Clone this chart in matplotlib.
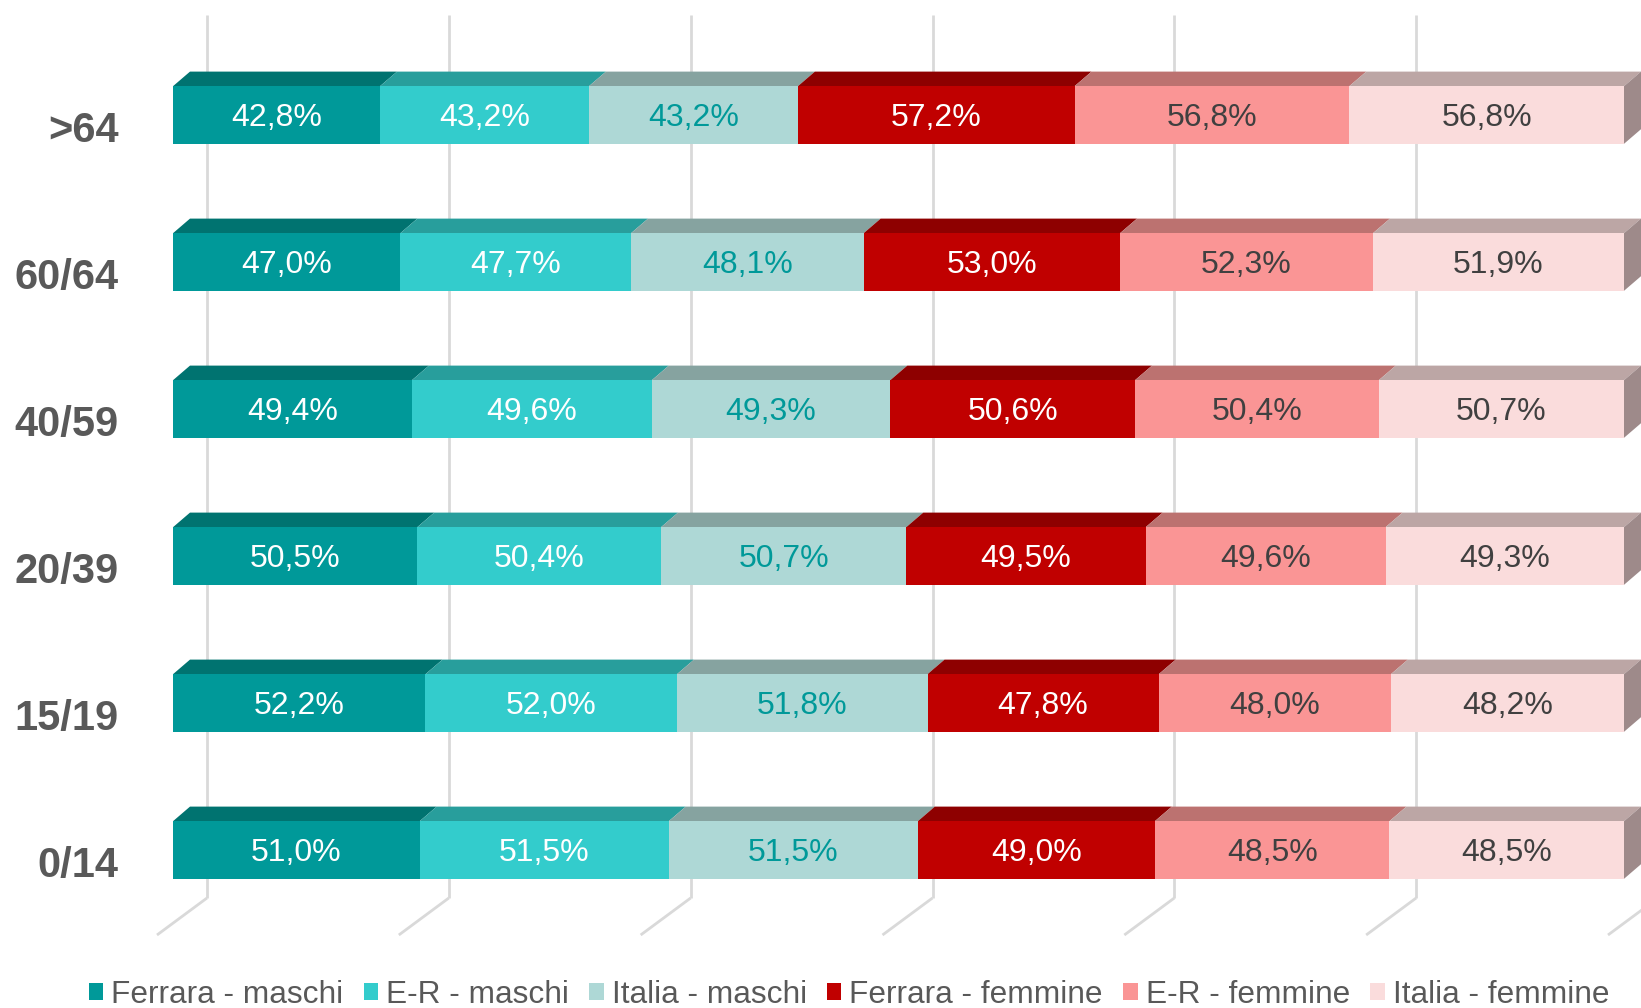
import numpy as np
import matplotlib.pyplot as plt
from matplotlib.patches import Polygon, Rectangle

plt.rcParams['font.family'] = ['Liberation Sans', 'DejaVu Sans']

# Age groups (bottom to top) and the six stacked series
categories = ['0/14', '15/19', '20/39', '40/59', '60/64', '>64']
series = ['Ferrara - maschi', 'E-R - maschi', 'Italia - maschi',
          'Ferrara - femmine', 'E-R - femmine', 'Italia - femmine']
ferrara_m = [51.0, 52.2, 50.5, 49.4, 47.0, 42.8]
er_m = [51.5, 52.0, 50.4, 49.6, 47.7, 43.2]
italia_m = [51.5, 51.8, 50.7, 49.3, 48.1, 43.2]
ferrara_f = [49.0, 47.8, 49.5, 50.6, 53.0, 57.2]
er_f = [48.5, 48.0, 49.6, 50.4, 52.3, 56.8]
italia_f = [48.5, 48.2, 49.3, 50.7, 51.9, 56.8]

values = [ferrara_m, er_m, italia_m, ferrara_f, er_f, italia_f]
front_colors = ['#009999', '#33CCCC', '#AED8D6', '#C00000', '#FA9595', '#FADCDC']
top_colors = ['#007370', '#289E9C', '#86A3A0', '#8E0000', '#BC7270', '#BCA6A5']
side_color = '#9E8A8A'
label_colors = ['white', 'white', '#009999', 'white', '#404040', '#404040']

W, H = 1641, 1008
fig = plt.figure(figsize=(W / 100, H / 100), dpi=100)
ax = fig.add_axes([0, 0, 1, 1])

# pixel geometry -> data scale
x0_px, x300_px = 173, 1624
ppx = (x300_px - x0_px) / 300.0          # pixels per percent
ppy = 147.0                              # pixels per category
y0_px = H - 850                          # pixel (from bottom) of first bar centre
ax.set_xlim(-x0_px / ppx, (W - x0_px) / ppx)
ax.set_ylim(-y0_px / ppy, (H - y0_px) / ppy)
ax.axis('off')

bar_h = 57.6 / ppy
dx, dy = 17 / ppx, 14.6 / ppy            # bar depth
wall_dx, wall_dy = 34 / ppx, 25 / ppy    # bar front -> back wall
floor_dx, floor_dy = 50 / ppx, 37 / ppy  # back wall -> floor front edge
grid_top = (H - 15 - y0_px) / ppy
grid_bot = (H - 898 - y0_px) / ppy

# back wall gridlines + floor lines
grid_color = '#D9D9D9'
for t in np.arange(0, 301, 50):
    xb = t + wall_dx
    ax.plot([xb, xb], [grid_top, grid_bot], color=grid_color, lw=2, zorder=0,
            solid_capstyle='butt')
    ax.plot([xb, xb - floor_dx], [grid_bot, grid_bot - floor_dy], color=grid_color,
            lw=2, zorder=0, solid_capstyle='butt')

ypos = np.arange(len(categories))
left = np.zeros(len(categories))
for k, vals in enumerate(values):
    vals = np.array(vals)
    for i, y in enumerate(ypos):
        l, r = left[i], left[i] + vals[i]
        yt = y + bar_h / 2
        ax.add_patch(Polygon([(l, yt), (r, yt), (r + dx, yt + dy), (l + dx, yt + dy)],
                             closed=True, facecolor=top_colors[k], edgecolor='none', zorder=2))
        if k == len(values) - 1:
            yb = y - bar_h / 2
            ax.add_patch(Polygon([(r, yb), (r, yt), (r + dx, yt + dy), (r + dx, yb + dy)],
                                 closed=True, facecolor=side_color, edgecolor='none', zorder=2))
    ax.barh(ypos, vals, left=left, height=bar_h, color=front_colors[k], zorder=3)
    for i, y in enumerate(ypos):
        ax.text(left[i] + vals[i] / 2, y - 0.022, f"{vals[i]:.1f}%".replace('.', ','),
                ha='center', va='center', fontsize=23, color=label_colors[k], zorder=4)
    left += vals

for i, y in enumerate(ypos):
    ax.text(-11.2, y - 0.11, categories[i], ha='right', va='center', fontsize=30,
            fontweight='bold', color='#595959')

handles = [Rectangle((0, 0), 1, 1, facecolor=c, edgecolor='none') for c in front_colors]
fig.legend(handles, series, loc='center', bbox_to_anchor=(849 / W, 1 - 995 / H), ncol=6,
           frameon=False, fontsize=22.8, handlelength=0.45, handleheight=0.45,
           handletextpad=0.25, columnspacing=0.65, labelcolor='#595959', borderaxespad=0)

fig.savefig('out.png', dpi=100)
